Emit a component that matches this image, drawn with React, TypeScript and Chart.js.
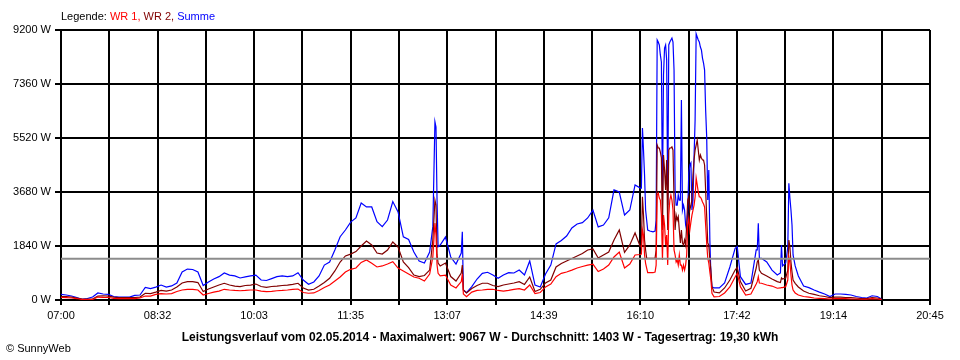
import React, { useEffect, useRef } from "react";
import { Chart, registerables } from "chart.js";

Chart.register(...registerables);

// ---- data (minutes after 07:00, power in W) ----
const minutesAfter7: number[] = [
  0, 5, 10, 15, 20, 25, 30, 35, 40, 45,
  50, 55, 60, 65, 70, 75, 80, 85, 90, 95,
  100, 105, 110, 115, 120, 125, 130, 135, 140, 145,
  150, 155, 160, 165, 170, 175, 180, 185, 190, 195,
  200, 205, 210, 215, 220, 225, 230, 235, 240, 245,
  250, 255, 260, 265, 270, 275, 280, 285, 290, 295,
  300, 305, 310, 315, 320, 325, 330, 335, 340, 345,
  350,
  353, 355, 356, 357, 358,
  360, 365, 370, 375, 380, 381, 382,
  385, 390, 395, 400, 405, 410, 415, 420, 425, 430,
  435, 440, 445, 450, 455, 460, 465, 470, 475, 480,
  485, 490, 495, 500, 505, 510, 515, 520, 525, 530,
  535, 540, 545, 550,
  551, 552, 553, 554, 555, 556, 557, 559, 562, 564,
  565, 566, 567, 568, 569, 570, 571, 572, 573, 574,
  575, 576, 577, 578, 579, 580, 581, 582, 583, 584,
  585, 586, 587, 588, 589, 590, 591, 592, 593, 594,
  595, 596, 597, 598, 599, 600, 601, 602, 603, 604,
  605, 606, 607, 608, 609, 610, 611, 612, 613, 614,
  615, 616, 617, 618,
  620, 625, 630, 635, 640, 642, 645, 650, 655, 660,
  661, 662, 663, 665, 670, 675, 680, 683, 684, 685,
  688, 690, 691, 692, 693, 694, 695, 697, 700, 705,
  710, 715, 720, 725, 730, 735, 740, 745, 750, 755,
  760, 765, 770, 775, 779,
];

const summe: number[] = [
  190, 170, 136, 85, 25, 50, 100, 240, 205, 190,
  120, 100, 95, 100, 155, 170, 425, 390, 440, 510,
  440, 480, 580, 955, 1055, 1040, 955, 495, 615, 715,
  795, 920, 850, 820, 750, 785, 820, 850, 680, 665,
  730, 795, 820, 800, 820, 930, 680, 535, 615, 820,
  1190, 1295, 1705, 2155, 2385, 2655, 2795, 3305, 3170, 3170,
  2670, 2500, 2725, 3355, 3000, 2155, 2060, 1635, 1330, 1260,
  1635,
  2500, 6070, 5890, 3405, 1815,
  1875, 2145, 1465, 1225, 1600, 2325, 340,
  250, 455, 715, 910, 945, 850, 740, 850, 930, 920,
  1020, 850, 1330, 510, 445, 885, 1190, 1910, 2025, 2180,
  2455, 2590, 2635, 2795, 3065, 2490, 2555, 2800, 3750, 3680,
  2895, 3065, 3920, 3815,
  3815, 5860, 5110, 4260, 3065, 2725, 2385, 2350, 2325, 2350,
  2725, 8860, 8790, 8690, 8350, 8110, 3520, 7665, 8585, 8690,
  8180, 3235, 8690, 8790, 8860, 8925, 8790, 7835, 3750, 3235,
  3235, 3580, 3405, 3405, 6815, 3065, 3235, 3065, 2555, 2385,
  3065, 4325, 4600, 4670, 3065, 3405, 4870, 6130, 9067, 8960,
  8860, 8790, 8620, 8520, 8245, 8075, 7835, 6475, 5555, 3405,
  4430, 2045, 850, 455,
  410, 410, 580, 1125, 1760, 1815, 795, 530, 580, 1705,
  1705, 2615, 1430, 1420, 1295, 1020, 850, 920, 1875, 1160,
  1260, 1805, 3975, 3475, 3065, 2555, 1535, 1160, 820, 475,
  420, 340, 270, 205, 120, 205, 205, 190, 170, 120,
  85, 68, 145, 120, 34,
];

const wr2: number[] = [
  120, 120, 100, 68, 34, 34, 34, 135, 145, 135,
  100, 80, 80, 80, 85, 100, 230, 220, 270, 325,
  305, 340, 445, 580, 625, 625, 595, 290, 375, 445,
  510, 570, 510, 475, 455, 495, 510, 545, 460, 430,
  460, 475, 495, 510, 535, 570, 410, 340, 365, 475,
  595, 740, 990, 1295, 1500, 1565, 1650, 1840, 2010, 1875,
  1600, 1565, 1705, 1975, 1805, 1295, 1105, 850, 800, 835,
  1020,
  2045, 3405, 3235, 1535, 1260,
  1160, 1260, 800, 645, 920, 1190, 340,
  240, 390, 495, 570, 570, 495, 455, 510, 545, 580,
  625, 530, 785, 290, 365, 580, 680, 1125, 1245, 1330,
  1415, 1500, 1585, 1705, 1740, 1430, 1535, 1635, 2045, 2385,
  1625, 1875, 2285, 1815,
  1840, 3520, 2895, 2045, 1705, 1430, 1420, 1420, 1420, 1430,
  1705, 5280, 5180, 5180, 5040, 4840, 2385, 4940, 4430, 3750,
  4770, 2385, 5110, 5180, 5180, 5215, 5110, 3405, 2385, 2895,
  2725, 2840, 2385, 1940, 2385, 1940, 1875, 2045, 1875, 2555,
  3405, 3520, 3065, 3235, 3405, 4260, 4770, 5110, 5280, 5450,
  5110, 4770, 4940, 4840, 4770, 4770, 4600, 3750, 2840, 1940,
  1875, 1365, 1020, 455,
  270, 240, 410, 680, 1020, 1115, 625, 305, 400, 1090,
  1295, 1365, 1020, 910, 820, 715, 625, 595, 750, 715,
  750, 1020, 2045, 1805, 1295, 955, 680, 570, 445, 305,
  230, 190, 145, 120, 80, 100, 100, 85, 80, 68,
  50, 50, 85, 68, 34,
];

const wr1: number[] = [
  85, 80, 68, 50, 17, 17, 17, 100, 90, 85,
  58, 45, 45, 45, 50, 68, 135, 135, 190, 220,
  205, 220, 290, 340, 365, 365, 340, 170, 220, 270,
  305, 365, 340, 325, 315, 325, 340, 340, 305, 285,
  295, 315, 325, 340, 360, 375, 255, 230, 240, 325,
  425, 510, 645, 785, 955, 1045, 1090, 1280, 1365, 1250,
  1125, 1160, 1225, 1305, 1090, 990, 885, 785, 740, 645,
  885,
  1465, 2625, 2215, 1190, 910,
  820, 850, 510, 410, 630, 885, 205,
  110, 270, 325, 340, 360, 365, 325, 305, 325, 360,
  390, 340, 510, 220, 255, 445, 545, 795, 910, 955,
  1020, 1090, 1140, 1190, 1225, 970, 1055, 1190, 1465, 1635,
  1090, 1225, 1535, 1550,
  1565, 2385, 2215, 1535, 1250, 1090, 930, 930, 930, 955,
  1190, 3575, 3645, 3475, 3405, 2895, 1365, 2895, 2555, 1875,
  2215, 1190, 2895, 3405, 3575, 3405, 3065, 1705, 1535, 1295,
  1365, 1190, 1535, 1190, 1190, 1020, 1190, 1020, 1190, 1535,
  2555, 2795, 2385, 2655, 2895, 3065, 3235, 3510, 4155, 3920,
  3680, 3510, 3510, 3440, 3340, 3270, 3170, 2555, 1940, 1430,
  1260, 955, 680, 230,
  110, 120, 240, 445, 785, 910, 455, 170, 205, 545,
  625, 795, 580, 570, 510, 475, 400, 410, 425, 425,
  455, 680, 1475, 1295, 850, 510, 340, 240, 170, 120,
  100, 68, 58, 45, 34, 50, 50, 45, 34, 34,
  25, 25, 50, 34, 17,
];

const averageW = 1403;
const seriesNames = ["WR 1", "WR 2", "Summe"];
const seriesColors = ["#ff0000", "#800000", "#0000ff"];
const xTickLabels = ["07:00", "08:32", "10:03", "11:35", "13:07", "14:39", "16:10", "17:42", "19:14", "20:45"];
const yTickValues = [0, 1840, 3680, 5520, 7360, 9200];
const xMin = 0;
const xMax = 825;
const xGridDivisions = 18;
const titleText =
  "Leistungsverlauf vom 02.05.2014 - Maximalwert: 9067 W - Durchschnitt: 1403 W - Tagesertrag: 19,30 kWh";
const legendPrefix = "Legende: ";
const copyrightText = "© SunnyWeb";

const FONT = "'Liberation Sans', Arial, sans-serif";

const textPlugin = {
  id: "sunnyTexts",
  afterDraw(chart: any) {
    const ctx = chart.ctx as CanvasRenderingContext2D;
    ctx.save();
    ctx.textBaseline = "middle";
    ctx.textAlign = "left";
    ctx.font = `11px ${FONT}`;
    let x = chart.chartArea.left;
    const y = 17;
    ctx.fillStyle = "#000";
    ctx.fillText(legendPrefix, x, y);
    x += ctx.measureText(legendPrefix).width;
    seriesNames.forEach((name, i) => {
      const t = name + (i < seriesNames.length - 1 ? ", " : "");
      ctx.fillStyle = seriesColors[i];
      ctx.fillText(t, x, y);
      x += ctx.measureText(t).width;
    });
    ctx.fillStyle = "#000";
    ctx.font = `bold 12px ${FONT}`;
    ctx.textAlign = "center";
    ctx.fillText(titleText, 480, 338);
    ctx.font = `11px ${FONT}`;
    ctx.textAlign = "left";
    ctx.fillText(copyrightText, 6, 349);
    ctx.restore();
  },
};

export default function App() {
  const ref = useRef<HTMLCanvasElement | null>(null);

  useEffect(() => {
    if (!ref.current) return;
    const toPoints = (vals: number[]) => vals.map((v, i) => ({ x: minutesAfter7[i], y: v }));
    const seriesValues = [wr1, wr2, summe];
    const datasets: any[] = seriesNames.map((name, i) => ({
      label: name,
      data: toPoints(seriesValues[i]),
      borderColor: seriesColors[i],
      backgroundColor: seriesColors[i],
      borderWidth: 1.2,
      pointRadius: 0,
      tension: 0,
      fill: false,
      order: 0,
    }));
    datasets.push({
      label: "Durchschnitt",
      data: [
        { x: xMin, y: averageW },
        { x: xMax, y: averageW },
      ],
      borderColor: "#8c8c8c",
      borderWidth: 2,
      pointRadius: 0,
      fill: false,
      order: -1,
    });

    const chart = new Chart(ref.current, {
      type: "line",
      data: { datasets },
      plugins: [textPlugin],
      options: {
        animation: false,
        responsive: false,
        events: [],
        layout: { padding: { top: 30, right: 30, left: 0, bottom: 0 } },
        plugins: {
          legend: { display: false },
          tooltip: { enabled: false },
          title: { display: false },
        },
        scales: {
          x: {
            type: "linear",
            min: xMin,
            max: xMax,
            afterBuildTicks: (axis: any) => {
              const ticks = [];
              for (let i = 0; i <= xGridDivisions; i++) {
                ticks.push({ value: xMin + (i * (xMax - xMin)) / xGridDivisions });
              }
              axis.ticks = ticks;
            },
            afterFit: (s: any) => {
              s.height = 60;
            },
            ticks: {
              autoSkip: false,
              maxRotation: 0,
              minRotation: 0,
              padding: 4,
              color: "#000",
              font: { family: FONT, size: 11 },
              callback: (_v: any, index: number) => (index % 2 === 0 ? xTickLabels[index / 2] : ""),
            },
            grid: { color: "#000", lineWidth: 2, tickLength: 5, drawTicks: true },
            border: { display: true, color: "#000", width: 2 },
          },
          y: {
            type: "linear",
            min: 0,
            max: 9200,
            afterBuildTicks: (axis: any) => {
              axis.ticks = yTickValues.map((v) => ({ value: v }));
            },
            afterFit: (s: any) => {
              s.width = 61;
            },
            ticks: {
              padding: 4,
              color: "#000",
              font: { family: FONT, size: 11 },
              callback: (v: any) => `${v} W`,
            },
            grid: { color: "#000", lineWidth: 2, tickLength: 6, drawTicks: true },
            border: { display: true, color: "#000", width: 2 },
          },
        },
      },
    });
    return () => chart.destroy();
  }, []);

  return (
    <div style={{ position: "absolute", left: 0, top: 0, width: 960, height: 360, background: "#fff" }}>
      <canvas ref={ref} width={960} height={360} />
    </div>
  );
}
